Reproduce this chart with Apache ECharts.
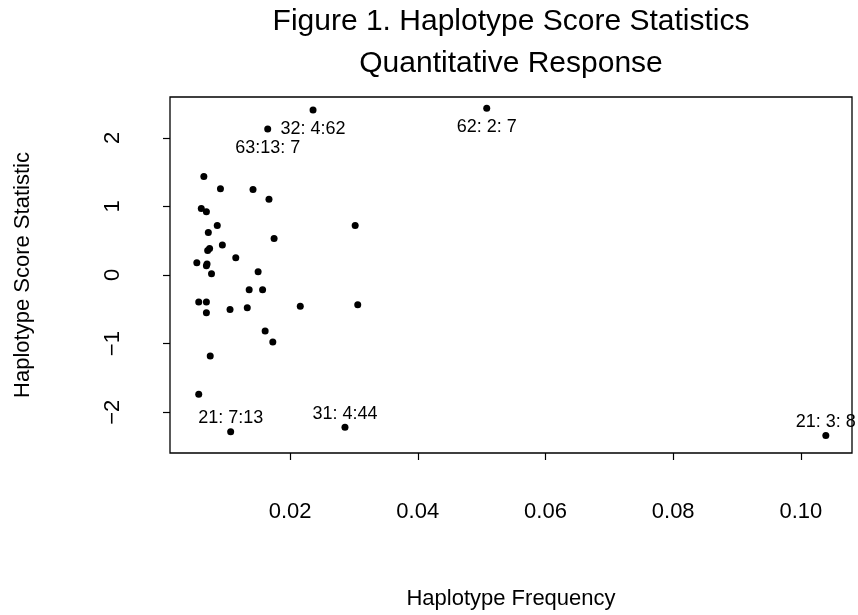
<!DOCTYPE html>
<html>
<head>
<meta charset="utf-8">
<script src="https://cdn.jsdelivr.net/npm/echarts@6/dist/echarts.min.js"></script>
<style>
  html, body { margin: 0; padding: 0; background: #fff; }
  #main { width: 858px; height: 615px; }
</style>
</head>
<body>
<div id="main"></div>
<script>
/*##########  haplotype score data  ##########*/
var hapFreq = [0.0236, 0.0165, 0.0508, 0.0065, 0.0091, 0.0142, 0.0167, 0.0061, 0.0069, 0.0302,
               0.0086, 0.0072, 0.0175, 0.0094, 0.0074, 0.0071, 0.0115, 0.0054, 0.0070, 0.0069,
               0.0077, 0.0150, 0.0136, 0.0157, 0.0057, 0.0069, 0.0216, 0.0306, 0.0106, 0.0133,
               0.0069, 0.0161, 0.0173, 0.0075, 0.0057, 0.0107, 0.0286, 0.1039];
var hapScore = [2.405, 2.127, 2.430, 1.435, 1.259, 1.245, 1.103, 0.971, 0.922, 0.722,
                0.722, 0.620, 0.532, 0.439, 0.385, 0.356, 0.253, 0.180, 0.161, 0.136,
                0.019, 0.048, -0.215, -0.215, -0.395, -0.395, -0.454, -0.435, -0.502, -0.479,
                -0.551, -0.816, -0.976, -1.181, -1.737, -2.284, -2.221, -2.339];
// haplotype names shown next to the extreme points ('' = no label)
var hapTag = ['32: 4:62', '63:13: 7', '62: 2: 7', '', '', '', '', '', '', '',
              '', '', '', '', '', '', '', '', '', '',
              '', '', '', '', '', '', '', '', '', '',
              '', '', '', '', '', '21: 7:13', '31: 4:44', '21: 3: 8'];

var xTicks = [0.02, 0.04, 0.06, 0.08, 0.10];
var yTicks = [-2, -1, 0, 1, 2];

var font = "'Liberation Sans', Arial, Helvetica, sans-serif";

var pts = [];
for (var i = 0; i < hapFreq.length; i++) {
    var item = { value: [hapFreq[i], hapScore[i]] };
    if (hapTag[i]) {
        var above = hapScore[i] < 0;
        item.label = {
            show: true,
            formatter: hapTag[i],
            color: '#000',
            position: above ? 'top' : 'bottom',
            distance: above ? 1 : 6
        };
    }
    pts.push(item);
}

var dom = document.getElementById("main");
var myChart = echarts.init(dom);

var option = {
    animation: false,
    backgroundColor: '#fff',
    graphic: [
        {
            type: 'text', x: 511, y: 22,
            style: { text: 'Figure 1. Haplotype Score Statistics', fill: '#000',
                     font: '30px ' + font, textAlign: 'center', textVerticalAlign: 'middle' }
        },
        {
            type: 'text', x: 511, y: 64,
            style: { text: 'Quantitative Response', fill: '#000',
                     font: '30px ' + font, textAlign: 'center', textVerticalAlign: 'middle' }
        }
    ],
    grid: {
        left: 170, right: 6, top: 97, bottom: 162,
        show: true, borderColor: '#000', borderWidth: 1.3, backgroundColor: 'transparent'
    },
    xAxis: {
        type: 'value',
        min: 0.0012, max: 0.108,
        name: 'Haplotype Frequency',
        nameLocation: 'middle',
        nameGap: 135,
        nameTextStyle: { color: '#000', fontSize: 22, fontFamily: font },
        axisLine: { show: false, onZero: false },
        splitLine: { show: false },
        axisTick: { show: true, inside: false, length: 7, customValues: xTicks,
                    lineStyle: { color: '#000', width: 1.2 } },
        axisLabel: {
            customValues: xTicks, margin: 48, color: '#000', fontSize: 22, fontFamily: font,
            formatter: function (v) { return v.toFixed(2); }
        }
    },
    yAxis: {
        type: 'value',
        min: -2.595, max: 2.595,
        name: 'Haplotype Score Statistic',
        nameLocation: 'middle',
        nameGap: 136,
        nameTextStyle: { color: '#000', fontSize: 22, fontFamily: font },
        axisLine: { show: false, onZero: false },
        splitLine: { show: false },
        axisTick: { show: true, inside: false, length: 7, customValues: yTicks,
                    lineStyle: { color: '#000', width: 1.2 } },
        axisLabel: {
            customValues: yTicks, rotate: 90, margin: 46, color: '#000', fontSize: 22, fontFamily: font,
            formatter: function (v) { return String(v).replace('-', '\u2212'); }
        }
    },
    series: [
        {
            name: 'haplotypes',
            type: 'scatter',
            symbol: 'circle',
            symbolSize: 7,
            itemStyle: { color: '#000', opacity: 1 },
            label: { color: '#000', fontSize: 18, fontFamily: font },
            data: pts
        }
    ]
};
myChart.setOption(option);
</script>
</body>
</html>
